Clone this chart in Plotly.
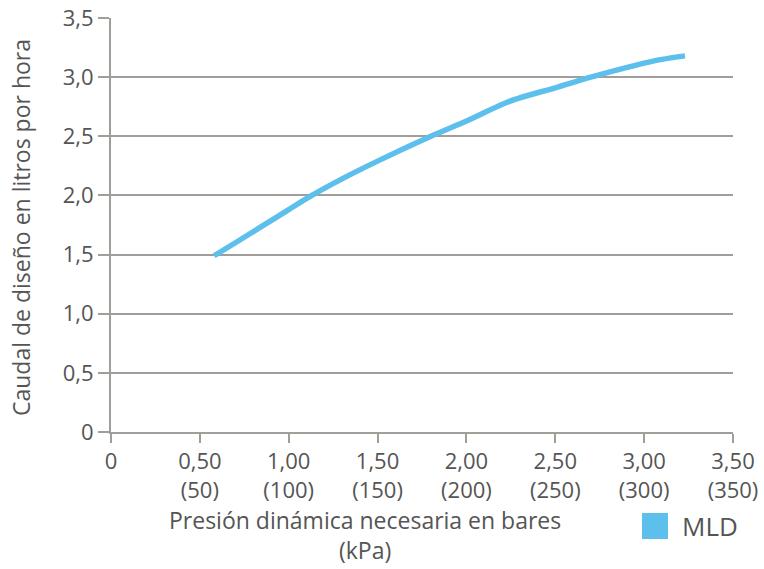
import plotly.graph_objects as go

# Data
presion_bar = [0.58, 0.70, 0.85, 1.00, 1.13, 1.30, 1.50, 1.80, 2.00, 2.25, 2.50, 2.70, 2.95, 3.10, 3.23]
caudal_lph = [1.49, 1.60, 1.74, 1.88, 2.00, 2.14, 2.29, 2.50, 2.63, 2.80, 2.91, 3.00, 3.10, 3.15, 3.18]
series_name = "MLD"

x_tick_vals = [0, 0.5, 1.0, 1.5, 2.0, 2.5, 3.0, 3.5]
x_tick_text = ["0", "0,50<br>(50)", "1,00<br>(100)", "1,50<br>(150)", "2,00<br>(200)",
               "2,50<br>(250)", "3,00<br>(300)", "3,50<br>(350)"]
y_tick_vals = [0, 0.5, 1.0, 1.5, 2.0, 2.5, 3.0, 3.5]
y_tick_text = ["0", "0,5", "1,0", "1,5", "2,0", "2,5", "3,0", "3,5"]

LINE_COLOR = "#5DBFEB"
GRID = "#a19d99"
TEXT = "#555555"
FONT = "Open Sans"
FS = 22

W, H = 764, 569
L, R, T, B = 111, 31, 18, 137
PW, PH = W - L - R, H - T - B


def px_x(px):
    return (px - L) / PW


def px_y(py):
    return (H - B - py) / PH


fig = go.Figure()
fig.add_trace(go.Scatter(
    x=presion_bar, y=caudal_lph, mode="lines", name=series_name,
    line=dict(color=LINE_COLOR, width=5.5, shape="spline", smoothing=0.8),
    showlegend=False,
))

fig.update_layout(
    width=W, height=H,
    margin=dict(l=L, r=R, t=T, b=B),
    paper_bgcolor="white", plot_bgcolor="white",
    font=dict(family=FONT, color=TEXT, size=FS),
    xaxis=dict(
        range=[0, 3.5], tickvals=x_tick_vals, ticktext=x_tick_text, automargin=False,
        showgrid=False, zeroline=False, showline=True, linecolor=GRID, linewidth=2,
        ticks="outside", ticklen=9, tickwidth=2, tickcolor=GRID,
        tickfont=dict(size=FS, color=TEXT),
    ),
    yaxis=dict(
        range=[0, 3.5], tickvals=y_tick_vals, ticktext=y_tick_text, automargin=False,
        showgrid=True, gridcolor=GRID, gridwidth=2, zeroline=False,
        showline=True, linecolor=GRID, linewidth=2,
        ticks="outside", ticklen=11, tickwidth=2, tickcolor=GRID,
        tickfont=dict(size=FS, color=TEXT),
    ),
)

# y-axis title
fig.add_annotation(
    xref="paper", yref="paper", x=px_x(21), y=px_y(228),
    xanchor="center", yanchor="middle", showarrow=False, textangle=-90,
    text="Caudal de diseño en litros por hora", font=dict(size=23, color=TEXT),
)

# x-axis title (offset left of centre as in the reference)
fig.add_annotation(
    xref="paper", yref="paper", x=px_x(365), y=px_y(535),
    xanchor="center", yanchor="middle", showarrow=False,
    text="Presión dinámica necesaria en bares<br>(kPa)", font=dict(size=23, color=TEXT),
)

# legend swatch and label
fig.add_shape(
    type="rect", xref="paper", yref="paper",
    x0=px_x(642), x1=px_x(668), y0=px_y(539), y1=px_y(513),
    fillcolor=LINE_COLOR, line=dict(width=0),
)
fig.add_annotation(
    xref="paper", yref="paper", x=px_x(680), y=px_y(526),
    xanchor="left", yanchor="middle", showarrow=False,
    text=series_name, font=dict(size=26, color=TEXT),
)

fig.write_html(
    "out.html",
    config={"displayModeBar": False},
    post_script="document.body.style.margin='0';",
)
